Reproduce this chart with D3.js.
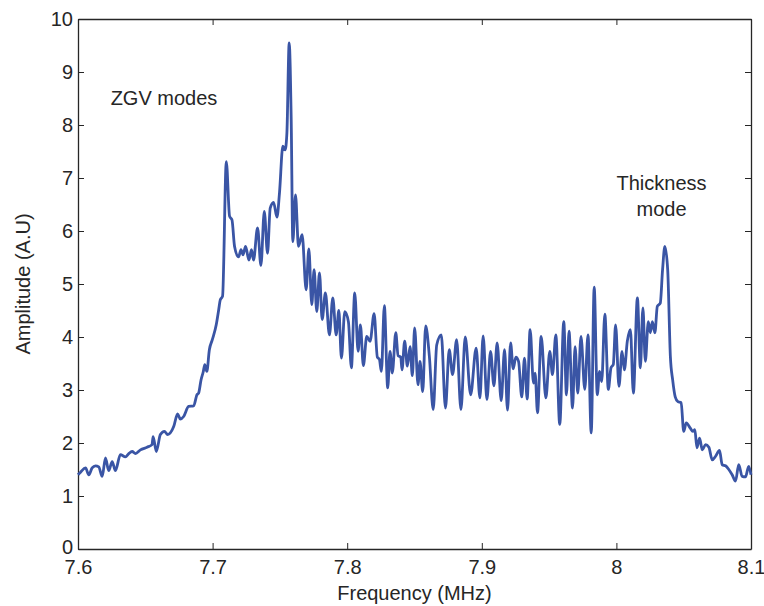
<!DOCTYPE html>
<html>
<head>
<meta charset="utf-8">
<script src="https://cdn.jsdelivr.net/npm/d3@7"></script>
<style>
  body { margin: 0; background: #fff; }
  svg text { font-family: "Liberation Sans", Arial, Helvetica, sans-serif; fill: #262626; }
</style>
</head>
<body>
<svg width="764" height="606"></svg>
<script>
// Frequency (MHz) of the traced peaks/troughs
const freq = [
  7.6000, 7.6019, 7.6056, 7.6080, 7.6105, 7.6130, 7.6154, 7.6180, 7.6204, 7.6228,
  7.6254, 7.6278, 7.6315, 7.6352, 7.6377, 7.6402, 7.6427, 7.6464, 7.6513, 7.6550,
  7.6558, 7.6582, 7.6612, 7.6642, 7.6666, 7.6711, 7.6740, 7.6760, 7.6785, 7.6822,
  7.6859, 7.6884, 7.6896, 7.6914, 7.6931, 7.6942, 7.6957, 7.6976, 7.6998, 7.7027,
  7.7045, 7.7057, 7.7074, 7.7102, 7.7126, 7.7144, 7.7163, 7.7193, 7.7211, 7.7226,
  7.7245, 7.7270, 7.7289, 7.7304, 7.7334, 7.7359, 7.7384, 7.7408, 7.7428, 7.7453,
  7.7478, 7.7497, 7.7522, 7.7539, 7.7552, 7.7569, 7.7584, 7.7596, 7.7616, 7.7638,
  7.7665, 7.7695, 7.7715, 7.7737, 7.7754, 7.7774, 7.7794, 7.7814, 7.7838, 7.7868,
  7.7893, 7.7918, 7.7938, 7.7957, 7.7982, 7.8009, 7.8031, 7.8056, 7.8081, 7.8098,
  7.8120, 7.8145, 7.8170, 7.8200, 7.8224, 7.8239, 7.8254, 7.8276, 7.8301, 7.8318,
  7.8335, 7.8361, 7.8378, 7.8398, 7.8407, 7.8427, 7.8447, 7.8467, 7.8484, 7.8501,
  7.8526, 7.8541, 7.8561, 7.8583, 7.8610, 7.8639, 7.8665, 7.8699, 7.8730, 7.8758,
  7.8783, 7.8813, 7.8845, 7.8877, 7.8917, 7.8958, 7.8986, 7.9010, 7.9038, 7.9065,
  7.9090, 7.9114, 7.9144, 7.9169, 7.9191, 7.9214, 7.9233, 7.9253, 7.9273, 7.9297,
  7.9317, 7.9337, 7.9359, 7.9384, 7.9396, 7.9414, 7.9441, 7.9476, 7.9505, 7.9525,
  7.9550, 7.9579, 7.9609, 7.9629, 7.9648, 7.9674, 7.9693, 7.9713, 7.9737, 7.9765,
  7.9789, 7.9813, 7.9835, 7.9858, 7.9875, 7.9891, 7.9914, 7.9940, 7.9960, 7.9977,
  7.9994, 8.0019, 8.0042, 8.0059, 8.0081, 8.0104, 8.0126, 8.0156, 8.0178, 8.0197,
  8.0215, 8.0237, 8.0252, 8.0267, 8.0286, 8.0304, 8.0326, 8.0343, 8.0360, 8.0381,
  8.0401, 8.0418, 8.0437, 8.0457, 8.0481, 8.0500, 8.0519, 8.0549, 8.0568, 8.0583,
  8.0598, 8.0618, 8.0638, 8.0662, 8.0687, 8.0712, 8.0737, 8.0766, 8.0786, 8.0811,
  8.0835, 8.0860, 8.0885, 8.0909, 8.0934, 8.0959, 8.0983, 8.1000
];

// Amplitude (A.U) at those frequencies
const amplitude = [
  1.40, 1.45, 1.53, 1.40, 1.53, 1.57, 1.55, 1.37, 1.72, 1.48,
  1.65, 1.48, 1.78, 1.74, 1.80, 1.84, 1.80, 1.87, 1.92, 1.97,
  2.12, 1.84, 2.16, 2.22, 2.16, 2.31, 2.55, 2.45, 2.50, 2.69,
  2.70, 2.91, 2.94, 3.19, 3.35, 3.48, 3.35, 3.76, 3.95, 4.23,
  4.51, 4.70, 4.77, 7.31, 6.28, 6.21, 5.71, 5.51, 5.65, 5.55,
  5.71, 5.45, 5.65, 5.45, 6.06, 5.35, 6.37, 5.58, 6.43, 6.54,
  6.26, 6.72, 7.60, 7.53, 7.85, 9.55, 8.10, 5.80, 6.68, 5.71,
  5.93, 4.89, 5.66, 4.61, 5.27, 4.48, 5.21, 4.33, 4.83, 4.04,
  4.74, 4.04, 4.50, 3.60, 4.48, 4.29, 3.42, 4.83, 3.73, 4.23,
  3.46, 4.01, 3.92, 4.44, 3.62, 3.58, 3.35, 4.59, 3.04, 3.73,
  3.32, 4.08, 3.65, 3.62, 3.38, 3.92, 3.45, 3.82, 3.27, 4.17,
  3.10, 3.54, 2.97, 4.21, 3.65, 2.63, 3.85, 4.04, 2.66, 3.76,
  3.29, 3.95, 2.63, 4.00, 2.91, 3.79, 2.85, 4.02, 2.82, 3.73,
  3.08, 3.89, 2.80, 3.76, 2.62, 3.89, 3.40, 3.62, 3.54, 2.87,
  3.60, 2.83, 4.14, 3.13, 3.32, 2.57, 4.01, 2.85, 3.73, 3.29,
  4.04, 2.35, 4.29, 2.91, 4.11, 2.66, 3.82, 2.94, 4.01, 3.01,
  4.04, 2.19, 4.94, 2.91, 3.35, 3.16, 4.43, 3.01, 3.42, 3.48,
  4.23, 3.07, 3.73, 3.38, 3.92, 4.14, 2.94, 4.74, 3.42, 4.55,
  3.54, 4.29, 4.08, 4.29, 4.08, 4.58, 4.64, 5.27, 5.71, 5.27,
  3.63, 3.19, 2.87, 2.78, 2.76, 2.22, 2.38, 2.28, 2.22, 2.25,
  1.91, 2.09, 1.87, 1.97, 1.92, 1.68, 1.75, 1.86, 1.59, 1.57,
  1.50, 1.40, 1.28, 1.59, 1.37, 1.36, 1.56, 1.40
];

const xTicks = [7.6, 7.7, 7.8, 7.9, 8, 8.1];
const yTicks = [0, 1, 2, 3, 4, 5, 6, 7, 8, 9, 10];

const annotations = [
  { lines: ["ZGV modes"], f: 7.6639, a: 8.38 },
  { lines: ["Thickness", "mode"], f: 8.0335, a: 6.77 }
];

const svg = d3.select("svg");
const margin = { top: 19, right: 13, bottom: 57, left: 78 };
const width = 764, height = 606;
const fontSize = 20;

const x = d3.scaleLinear()
  .domain([7.6, 8.1])
  .range([margin.left, width - margin.right]);
const y = d3.scaleLinear()
  .domain([0, 10])
  .range([height - margin.bottom, margin.top]);

const axisColor = "#262626";
const tickLen = 6;

// box + inward ticks (matlab style)
const gBottom = svg.append("g")
  .attr("transform", `translate(0,${y(0)})`)
  .call(d3.axisBottom(x).tickValues(xTicks).tickFormat(d3.format("")).tickSizeInner(-tickLen).tickSizeOuter(0).tickPadding(11));
const gTop = svg.append("g")
  .attr("transform", `translate(0,${y(10)})`)
  .call(d3.axisTop(x).tickValues(xTicks).tickFormat("").tickSizeInner(-tickLen).tickSizeOuter(0));
const gLeft = svg.append("g")
  .attr("transform", `translate(${x(7.6)},0)`)
  .call(d3.axisLeft(y).tickValues(yTicks).tickSizeInner(-tickLen).tickSizeOuter(0).tickPadding(5));
const gRight = svg.append("g")
  .attr("transform", `translate(${x(8.1)},0)`)
  .call(d3.axisRight(y).tickValues(yTicks).tickFormat("").tickSizeInner(-tickLen).tickSizeOuter(0));

[gBottom, gTop, gLeft, gRight].forEach(g => {
  g.selectAll(".domain").attr("stroke", axisColor).attr("stroke-width", 1.3);
  g.selectAll(".tick line").attr("stroke", axisColor).attr("stroke-width", 1);
  g.selectAll(".tick text").attr("font-size", fontSize).style("fill", axisColor);
});
gBottom.selectAll(".tick text").attr("dy", "0.68em");
// nudge the "0" label up a little so it clears "7.6"
gLeft.selectAll(".tick text").filter(d => d === 0).attr("dy", "0.22em");

// the spectrum
const line = d3.line()
  .x((d, i) => x(freq[i]))
  .y(d => y(d))
  .curve(d3.curveMonotoneX);

svg.append("path")
  .datum(amplitude)
  .attr("fill", "none")
  .attr("stroke", "#3a55a5")
  .attr("stroke-width", 2.8)
  .attr("stroke-linejoin", "round")
  .attr("d", line);

// annotations
annotations.forEach(a => {
  const t = svg.append("text")
    .attr("x", x(a.f))
    .attr("y", y(a.a))
    .attr("text-anchor", "middle")
    .attr("font-size", fontSize);
  a.lines.forEach((l, i) => {
    t.append("tspan").attr("x", x(a.f)).attr("dy", i === 0 ? 0 : 26).text(l);
  });
});

// axis titles
svg.append("text")
  .attr("x", (x(7.6) + x(8.1)) / 2)
  .attr("y", 600)
  .attr("text-anchor", "middle")
  .attr("font-size", fontSize)
  .text("Frequency (MHz)");

svg.append("text")
  .attr("transform", `translate(30,${(y(0) + y(10)) / 2}) rotate(-90)`)
  .attr("text-anchor", "middle")
  .attr("font-size", fontSize)
  .text("Amplitude (A.U)");
</script>
</body>
</html>
